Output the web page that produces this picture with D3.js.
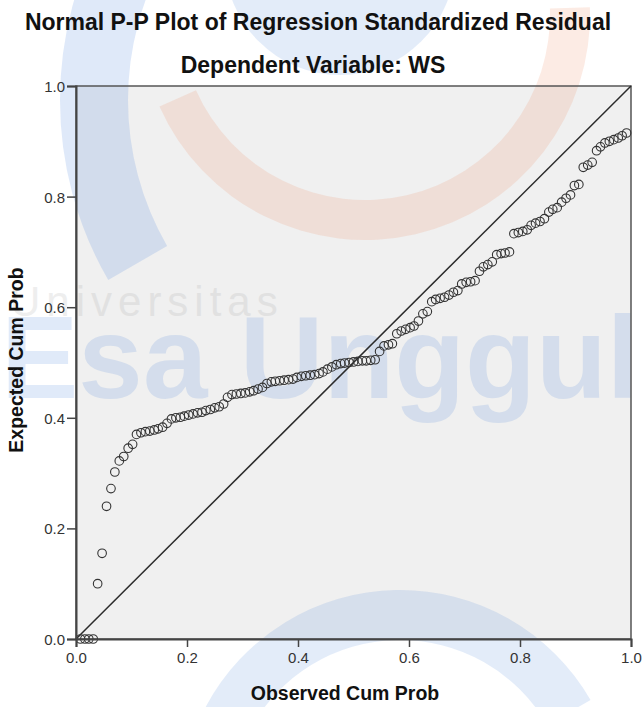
<!DOCTYPE html>
<html><head><meta charset="utf-8">
<script src="https://cdn.jsdelivr.net/npm/d3@7"></script>
<style>html,body{margin:0;padding:0;background:#fff}svg{display:block}</style>
</head><body>
<svg id="chart" width="643" height="707"></svg>
<script>
const titleText = "Normal P-P Plot of Regression Standardized Residual";
const subtitleText = "Dependent Variable: WS";
const xLabel = "Observed Cum Prob";
const yLabel = "Expected Cum Prob";
const tickValues = [0, 0.2, 0.4, 0.6, 0.8, 1.0];
const observed = [
 .008,.016,.023,.031,.039,.047,.055,.063,.070,.078,.086,.094,.102,.109,.117,.125,.133,.141,.148,.156,
 .164,.172,.180,.188,.195,.203,.211,.219,.227,.234,.242,.250,.258,.266,.273,.281,.289,.297,.305,.313,
 .320,.328,.336,.344,.352,.359,.367,.375,.383,.391,.398,.406,.414,.422,.430,.438,.445,.453,.461,.469,
 .477,.484,.492,.500,.508,.516,.523,.531,.539,.547,.555,.563,.570,.578,.586,.594,.602,.609,.617,.625,
 .633,.641,.648,.656,.664,.672,.680,.688,.695,.703,.711,.719,.727,.734,.742,.750,.758,.766,.773,.781,
 .789,.797,.805,.813,.820,.828,.836,.844,.852,.859,.867,.875,.883,.891,.898,.906,.914,.922,.930,.938,
 .945,.953,.961,.969,.977,.984,.992];
const expected = [
 0,0,0,0,.100,.155,.240,.272,.302,.322,.330,.345,.352,.370,.373,.375,.376,.378,.380,.383,
 .390,.398,.400,.401,.403,.405,.407,.409,.410,.413,.415,.418,.420,.425,.437,.442,.443,.444,.445,.447,
 .449,.452,.455,.462,.465,.466,.467,.468,.469,.470,.473,.475,.476,.477,.478,.480,.483,.488,.492,.496,
 .498,.499,.500,.501,.502,.503,.503,.504,.505,.520,.530,.532,.534,.552,.557,.560,.563,.566,.575,.588,
 .592,.610,.614,.616,.618,.622,.627,.630,.642,.645,.646,.648,.665,.673,.677,.682,.695,.697,.698,.700,
 .733,.735,.737,.740,.748,.752,.755,.760,.772,.777,.780,.790,.797,.803,.820,.822,.853,.857,.862,.883,
 .890,.897,.900,.903,.906,.910,.915];

const svg = d3.select("#chart");
const W = 643, H = 707;
const m = {left: 76, right: 12, top: 86, bottom: 68};
const x = d3.scaleLinear().domain([0, 1]).range([m.left, W - m.right]);
const y = d3.scaleLinear().domain([0, 1]).range([H - m.bottom, m.top]);
const font = "'Liberation Sans', Arial, sans-serif";
const deg = Math.PI / 180;

// plot background
svg.append("rect").attr("x", x(0)).attr("y", y(1))
  .attr("width", x(1) - x(0)).attr("height", y(0) - y(1))
  .attr("fill", "#f0f0f0");

// faint watermark (university logo behind the chart)
const wm = svg.append("g").attr("pointer-events", "none");
const blue = "#3a78d8", orange = "#f08a5d";
wm.append("path").attr("d", d3.arc()({innerRadius: 292, outerRadius: 360, startAngle: 240 * deg, endAngle: 300 * deg, cornerRadius: 20}))
  .attr("transform", "translate(420,100)").attr("fill", blue).attr("opacity", 0.16);
wm.append("path").attr("d", d3.arc()({innerRadius: 185, outerRadius: 225, startAngle: 88 * deg, endAngle: 246 * deg, cornerRadius: 10}))
  .attr("transform", "translate(365,15)").attr("fill", orange).attr("opacity", 0.17);
wm.append("path").attr("d", d3.arc()({innerRadius: 0, outerRadius: 115, startAngle: 90 * deg, endAngle: 270 * deg}))
  .attr("transform", "translate(340,-40)").attr("fill", blue).attr("opacity", 0.14);
wm.append("path").attr("d", d3.arc()({innerRadius: 170, outerRadius: 220, startAngle: -62 * deg, endAngle: 60 * deg}))
  .attr("transform", "translate(400,810)").attr("fill", blue).attr("opacity", 0.14);
wm.append("text").attr("x", 10).attr("y", 316).text("Universitas")
  .attr("font-family", font).attr("font-size", 42).attr("letter-spacing", 6)
  .attr("fill", "#8a8a8a").attr("opacity", 0.14);
wm.append("text").attr("x", 1).attr("y", 398).text("Esa Unggul")
  .attr("font-family", font).attr("font-weight", "bold").attr("font-size", 116)
  .attr("fill", blue).attr("opacity", 0.15);

// border
svg.append("rect").attr("x", x(0)).attr("y", y(1))
  .attr("width", x(1) - x(0)).attr("height", y(0) - y(1))
  .attr("fill", "none").attr("stroke", "#555").attr("stroke-width", 1.5);

// reference diagonal
svg.append("line").attr("x1", x(0)).attr("y1", y(0)).attr("x2", x(1)).attr("y2", y(1))
  .attr("stroke", "#2b2b2b").attr("stroke-width", 1.5);

// points
svg.append("g").selectAll("circle").data(observed).join("circle")
  .attr("cx", (d) => x(d)).attr("cy", (d, i) => y(expected[i])).attr("r", 4.3)
  .attr("fill", "none").attr("stroke", "#333").attr("stroke-width", 1.1);

// axes
const fmt = d3.format(".1f");
const gx = svg.append("g").attr("transform", `translate(0,${y(0)})`)
  .call(d3.axisBottom(x).tickValues(tickValues).tickFormat(fmt).tickSize(8).tickPadding(5));
const gy = svg.append("g").attr("transform", `translate(${x(0)},0)`)
  .call(d3.axisLeft(y).tickValues(tickValues).tickFormat(fmt).tickSize(9).tickPadding(2));
[gx, gy].forEach(g => {
  g.select(".domain").attr("stroke", "#444").attr("stroke-width", 2);
  g.selectAll(".tick line").attr("stroke", "#444").attr("stroke-width", 1.5);
  g.selectAll(".tick text").attr("font-family", font).attr("font-size", 15).attr("fill", "#333");
});
gy.selectAll(".tick text").attr("dy", "0.36em");

// titles
svg.append("text").attr("x", 318).attr("y", 30).attr("text-anchor", "middle")
  .attr("font-family", font).attr("font-weight", "bold").attr("font-size", 23).attr("fill", "#111")
  .text(titleText);
svg.append("text").attr("x", 313).attr("y", 73).attr("text-anchor", "middle")
  .attr("font-family", font).attr("font-weight", "bold").attr("font-size", 23).attr("fill", "#111")
  .text(subtitleText);
svg.append("text").attr("x", 345).attr("y", 700).attr("text-anchor", "middle")
  .attr("font-family", font).attr("font-weight", "bold").attr("font-size", 19.5).attr("fill", "#111")
  .text(xLabel);
svg.append("text").attr("transform", "translate(23,360) rotate(-90)").attr("text-anchor", "middle")
  .attr("font-family", font).attr("font-weight", "bold").attr("font-size", 19.5).attr("fill", "#111")
  .text(yLabel);
</script>
</body></html>
